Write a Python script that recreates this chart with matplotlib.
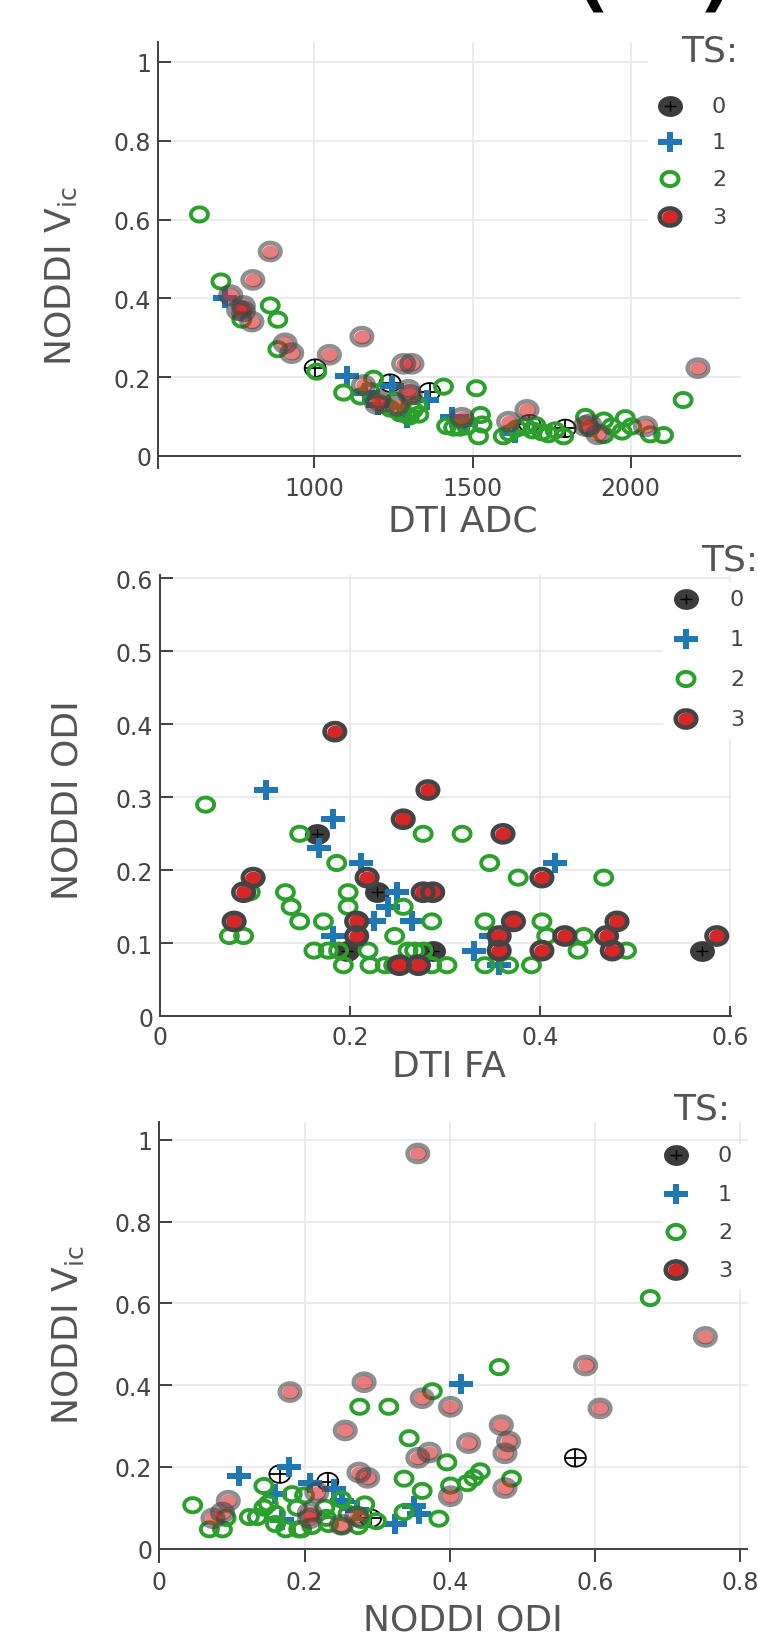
import matplotlib
matplotlib.use("Agg")
import numpy as np
import matplotlib.pyplot as plt
from matplotlib.path import Path
from matplotlib.patches import Rectangle

plt.rcParams['font.family'] = ['DejaVu Sans']
plt.rcParams['mathtext.fontset'] = 'dejavusans'

# ---------------- data ----------------
ts_labels = ["0", "1", "2", "3"]

# Panel 1: DTI ADC vs NODDI Vic
adc_ts0 = [1002, 1239, 1364, 1793, 1680]
vic1_ts0 = [0.223, 0.185, 0.163, 0.070, 0.082]
adc_ts1 = [717, 1102, 1245, 1160, 1355, 1292, 1435, 1635, 1480, 1200]
vic1_ts1 = [0.400, 0.203, 0.178, 0.160, 0.142, 0.096, 0.098, 0.058, 0.080, 0.130]
adc_ts2 = [636, 704, 770, 860, 884, 884, 1007, 1092, 1187, 1145,
           1175, 1271, 1313, 1325, 1300, 1330, 1408, 1512, 1525, 1418,
           1440, 1460, 1482, 1519, 1530, 1597, 1617, 1640, 1666, 1690,
           1700, 1720, 1740, 1761, 1788, 1857, 1870, 1915, 1915, 1940,
           1973, 1983, 2003, 2062, 2104, 2166, 1220, 1240, 1255, 1290]
vic1_ts2 = [0.613, 0.443, 0.346, 0.382, 0.346, 0.271, 0.214, 0.161, 0.196, 0.151,
            0.165, 0.108, 0.117, 0.130, 0.100, 0.105, 0.176, 0.172, 0.104, 0.076,
            0.072, 0.072, 0.075, 0.050, 0.080, 0.050, 0.058, 0.070, 0.075, 0.065,
            0.078, 0.060, 0.055, 0.065, 0.050, 0.099, 0.070, 0.090, 0.053, 0.075,
            0.062, 0.096, 0.075, 0.055, 0.053, 0.142, 0.130, 0.120, 0.140, 0.105]
adc_ts3 = [735, 775, 775, 760, 802, 805, 860, 907, 928, 1047,
           1150, 1282, 1308, 1155, 1297, 1203, 1197, 1261, 1303, 1466,
           1614, 1672, 1857, 1896, 2047, 2213, 1870]
vic1_ts3 = [0.408, 0.381, 0.367, 0.370, 0.341, 0.447, 0.519, 0.286, 0.261, 0.257,
            0.303, 0.234, 0.234, 0.180, 0.168, 0.142, 0.132, 0.127, 0.155, 0.097,
            0.087, 0.117, 0.076, 0.055, 0.075, 0.223, 0.080]

# Panel 2: DTI FA vs NODDI ODI
fa_ts0 = [0.165, 0.228, 0.197, 0.2875, 0.570]
odi2_ts0 = [0.25, 0.17, 0.09, 0.09, 0.09]
fa_ts1 = [0.112, 0.182, 0.167, 0.212, 0.182, 0.225, 0.249, 0.240, 0.265, 0.330, 0.416, 0.357, 0.348]
odi2_ts1 = [0.31, 0.27, 0.23, 0.21, 0.11, 0.13, 0.17, 0.15, 0.13, 0.09, 0.21, 0.07, 0.11]
fa_ts2 = [0.048, 0.073, 0.088, 0.095, 0.132, 0.138, 0.147, 0.147, 0.172, 0.162,
          0.177, 0.188, 0.193, 0.186, 0.198, 0.198, 0.219, 0.221, 0.237, 0.246,
          0.253, 0.247, 0.256, 0.261, 0.268, 0.277, 0.286, 0.286, 0.302, 0.318,
          0.342, 0.347, 0.342, 0.367, 0.377, 0.467, 0.402, 0.407, 0.446, 0.440,
          0.491, 0.391, 0.277]
odi2_ts2 = [0.29, 0.11, 0.11, 0.17, 0.17, 0.15, 0.13, 0.25, 0.13, 0.09,
            0.09, 0.09, 0.07, 0.21, 0.17, 0.15, 0.09, 0.07, 0.07, 0.07,
            0.07, 0.11, 0.15, 0.09, 0.09, 0.25, 0.13, 0.07, 0.07, 0.25,
            0.13, 0.21, 0.07, 0.07, 0.19, 0.19, 0.13, 0.11, 0.11, 0.09,
            0.09, 0.07, 0.09]
fa_ts3 = [0.184, 0.282, 0.256, 0.098, 0.088, 0.078, 0.218, 0.207, 0.207, 0.277,
          0.287, 0.252, 0.272, 0.361, 0.402, 0.372, 0.357, 0.357, 0.402, 0.426,
          0.470, 0.481, 0.476, 0.586]
odi2_ts3 = [0.39, 0.31, 0.27, 0.19, 0.17, 0.13, 0.19, 0.13, 0.11, 0.17,
            0.17, 0.07, 0.07, 0.25, 0.19, 0.13, 0.11, 0.09, 0.09, 0.11,
            0.11, 0.13, 0.09, 0.11]

# Panel 3: NODDI ODI vs NODDI Vic
odi3_ts0 = [0.166, 0.232, 0.291, 0.573]
vic3_ts0 = [0.182, 0.164, 0.074, 0.222]
odi3_ts1 = [0.110, 0.178, 0.208, 0.160, 0.240, 0.251, 0.416, 0.351, 0.358, 0.324, 0.169, 0.272]
vic3_ts1 = [0.177, 0.200, 0.161, 0.133, 0.145, 0.116, 0.402, 0.104, 0.084, 0.059, 0.071, 0.095]
odi3_ts2 = [0.046, 0.069, 0.087, 0.092, 0.124, 0.135, 0.144, 0.144, 0.160, 0.174,
            0.192, 0.183, 0.190, 0.228, 0.251, 0.283, 0.233, 0.251, 0.274, 0.299,
            0.278, 0.210, 0.196, 0.337, 0.362, 0.337, 0.385, 0.344, 0.396, 0.401,
            0.424, 0.433, 0.442, 0.485, 0.468, 0.276, 0.316, 0.376, 0.676, 0.150,
            0.200, 0.160, 0.260, 0.230]
vic3_ts2 = [0.106, 0.047, 0.047, 0.075, 0.077, 0.077, 0.153, 0.100, 0.060, 0.047,
            0.047, 0.133, 0.100, 0.100, 0.120, 0.108, 0.060, 0.055, 0.055, 0.067,
            0.070, 0.055, 0.047, 0.171, 0.141, 0.089, 0.073, 0.270, 0.211, 0.154,
            0.160, 0.173, 0.189, 0.171, 0.444, 0.347, 0.347, 0.385, 0.613, 0.110,
            0.130, 0.085, 0.085, 0.075]
odi3_ts3 = [0.356, 0.752, 0.587, 0.607, 0.282, 0.180, 0.362, 0.401, 0.256, 0.471,
            0.481, 0.426, 0.372, 0.356, 0.476, 0.275, 0.287, 0.401, 0.476, 0.095,
            0.087, 0.074, 0.217, 0.207, 0.207, 0.251, 0.272]
vic3_ts3 = [0.967, 0.518, 0.448, 0.343, 0.407, 0.383, 0.368, 0.347, 0.289, 0.302,
            0.262, 0.258, 0.235, 0.222, 0.233, 0.186, 0.173, 0.128, 0.148, 0.117,
            0.088, 0.074, 0.137, 0.088, 0.074, 0.058, 0.079]

# ---------------- style ----------------
W, H = 758, 1649
DPI = 100
PT = 72.0 / DPI          # points per pixel
DARK = '#444444'
BLUE = '#1f77b4'
GREEN = '#2ca02c'
RED = '#d62728'
GRID = '#ebebeb'
TITLE_COLOR = '#555555'
STRETCH = 1.2            # markers are slightly wider than tall in the reference

_t = np.linspace(0, 2 * np.pi, 61)
ellipse_path = Path(np.column_stack([0.5 * np.cos(_t), 0.5 / STRETCH * np.sin(_t)]), closed=True)
_b = 0.5 / STRETCH
_a = 0.12
plus_path = Path([(-_a, -_b), (_a, -_b), (_a, -_a), (0.5, -_a), (0.5, _a), (_a, _a),
                  (_a, _b), (-_a, _b), (-_a, _a), (-0.5, _a), (-0.5, -_a), (-_a, -_a), (-_a, -_b)],
                 closed=True)
cross_path = Path([(-0.5, 0), (0.5, 0), (0, -0.5 / STRETCH), (0, 0.5 / STRETCH)],
                  [Path.MOVETO, Path.LINETO, Path.MOVETO, Path.LINETO])


def s_px(d):
    return (d * PT) ** 2


fig = plt.figure(figsize=(W / DPI, H / DPI), dpi=DPI)


def add_axes_px(left, top, right, bottom):
    return fig.add_axes([left / W, 1 - bottom / H, (right - left) / W, (bottom - top) / H])


def style_axes(ax, xlim, ylim, xticks, xlabels, yticks, ylabels, xtick_len_px, bottom_spine):
    ax.set_xlim(*xlim)
    ax.set_ylim(*ylim)
    ax.set_xticks(xticks)
    ax.set_xticklabels(xlabels)
    ax.set_yticks(yticks)
    ax.set_yticklabels(ylabels)
    for sp in ['top', 'right']:
        ax.spines[sp].set_visible(False)
    ax.spines['left'].set_color(DARK)
    ax.spines['left'].set_linewidth(2 * PT)
    if bottom_spine:
        ax.spines['bottom'].set_color(DARK)
        ax.spines['bottom'].set_linewidth(2 * PT)
    else:
        ax.spines['bottom'].set_visible(False)
        ax.axhline(0, color=DARK, lw=2 * PT, zorder=1.5)
    ax.grid(True, color=GRID, lw=2 * PT, zorder=0)
    ax.set_axisbelow(True)
    ax.tick_params(axis='y', direction='in', length=13 * PT, width=2 * PT, color=DARK,
                   labelsize=17, labelcolor=DARK, pad=5)
    ax.tick_params(axis='x', direction='in', length=xtick_len_px * PT, width=2 * PT, color=DARK,
                   labelsize=17, labelcolor=DARK, pad=6)


def draw_ts0_open(ax, x, y):
    ax.scatter(x, y, s=s_px(21), marker=ellipse_path, facecolors='none', edgecolors='black',
               linewidths=1.8 * PT, zorder=2)
    ax.scatter(x, y, s=s_px(21), marker=cross_path, facecolors='none', edgecolors='black',
               linewidths=1.8 * PT, zorder=2)


def draw_ts0_filled(ax, x, y, **kw):
    ax.scatter(x, y, s=s_px(25), marker=ellipse_path, c='#3c3c3c', linewidths=0, zorder=2, **kw)
    ax.scatter(x, y, s=s_px(12), marker=cross_path, facecolors='none', edgecolors='black',
               linewidths=1.4 * PT, zorder=2.1, **kw)


def draw_ts1(ax, x, y, **kw):
    ax.scatter(x, y, s=s_px(24), marker=plus_path, c=BLUE, linewidths=0, zorder=3, **kw)


def draw_ts2(ax, x, y, d=17, lw=3.9, **kw):
    ax.scatter(x, y, s=s_px(d), marker=ellipse_path, facecolors='none', edgecolors=GREEN,
               linewidths=lw * PT, zorder=4, **kw)


def draw_ts3(ax, x, y, alpha=1.0, **kw):
    ax.scatter(x, y, s=s_px(16.5), marker=ellipse_path, c=RED, linewidths=0, alpha=alpha, zorder=5, **kw)
    ax.scatter(x, y, s=s_px(20.5), marker=ellipse_path, facecolors='none', edgecolors=DARK,
               linewidths=4.6 * PT, alpha=alpha, zorder=5.1, **kw)


# ---------------- panel 1 ----------------
ax1 = add_axes_px(158, 43.3, 741, 468.8)
style_axes(ax1, (505, 2349), (-0.03, 1.05), [1000, 1500, 2000], ['1000', '1500', '2000'],
           [0, 0.2, 0.4, 0.6, 0.8, 1], ['0', '0.2', '0.4', '0.6', '0.8', '1'], 11.8, False)
draw_ts0_open(ax1, adc_ts0, vic1_ts0)
draw_ts1(ax1, adc_ts1, vic1_ts1)
draw_ts2(ax1, adc_ts2, vic1_ts2)
draw_ts3(ax1, adc_ts3, vic1_ts3, alpha=0.6)

# ---------------- panel 2 ----------------
ax2 = add_axes_px(160, 575.7, 731, 1017.3)
style_axes(ax2, (0, 0.601), (0, 0.605), [0, 0.2, 0.4, 0.6], ['0', '0.2', '0.4', '0.6'],
           [0, 0.1, 0.2, 0.3, 0.4, 0.5, 0.6], ['0', '0.1', '0.2', '0.3', '0.4', '0.5', '0.6'], 10, True)
draw_ts0_filled(ax2, fa_ts0, odi2_ts0)
draw_ts1(ax2, fa_ts1, odi2_ts1)
draw_ts2(ax2, fa_ts2, odi2_ts2)
draw_ts3(ax2, fa_ts3, odi2_ts3)

# ---------------- panel 3 ----------------
ax3 = add_axes_px(159.3, 1122.6, 747.5, 1563)
style_axes(ax3, (0, 0.81), (-0.033, 1.045), [0, 0.2, 0.4, 0.6, 0.8], ['0', '0.2', '0.4', '0.6', '0.8'],
           [0, 0.2, 0.4, 0.6, 0.8, 1], ['0', '0.2', '0.4', '0.6', '0.8', '1'], 13.5, False)
draw_ts0_open(ax3, odi3_ts0, vic3_ts0)
draw_ts1(ax3, odi3_ts1, vic3_ts1)
draw_ts2(ax3, odi3_ts2, vic3_ts2)
draw_ts3(ax3, odi3_ts3, vic3_ts3, alpha=0.6)

# ---------------- overlay (legends, titles) in pixel coordinates ----------------
ov = fig.add_axes([0, 0, 1, 1], zorder=10)
ov.set_xlim(0, W)
ov.set_ylim(H, 0)
ov.axis('off')
ov.patch.set_alpha(0)


def legend_px(box, title_xy, marker_x, label_x, rows):
    bx0, by0, bx1, by1 = box
    ov.add_patch(Rectangle((bx0, by0), bx1 - bx0, by1 - by0, facecolor='white', edgecolor='none', zorder=1))
    ov.text(title_xy[0], title_xy[1], 'TS:', fontsize=26, color=TITLE_COLOR, ha='center', va='center', zorder=3)
    draw_ts0_filled(ov, [marker_x], [rows[0]], clip_on=False)
    draw_ts1(ov, [marker_x], [rows[1]], clip_on=False)
    draw_ts2(ov, [marker_x], [rows[2]], d=17, lw=4, clip_on=False)
    draw_ts3(ov, [marker_x], [rows[3]], clip_on=False)
    for lab, yy in zip(ts_labels, rows):
        ov.text(label_x, yy, lab, fontsize=16, color=DARK, ha='center', va='center', zorder=3)


legend_px((648, 55, 741, 245), (710, 52), 670, 719, [107, 143, 180, 218])
legend_px((663, 583, 758, 740), (730, 561), 686, 737, [600, 640, 680, 720])
legend_px((663, 1145, 758, 1290), (702, 1110), 676, 725, [1156, 1195, 1233, 1271])

# axis titles
ov.text(463, 522, 'DTI ADC', fontsize=26, color=TITLE_COLOR, ha='center', va='center')
ov.text(61, 276, r'NODDI V$_{\mathregular{ic}}$', fontsize=26, color=TITLE_COLOR,
        ha='center', va='center', rotation=90)
ov.text(449, 1067, 'DTI FA', fontsize=26, color=TITLE_COLOR, ha='center', va='center')
ov.text(68, 800, 'NODDI ODI', fontsize=26, color=TITLE_COLOR, ha='center', va='center', rotation=90)
ov.text(463, 1621, 'NODDI ODI', fontsize=26, color=TITLE_COLOR, ha='center', va='center')
ov.text(68, 1335, r'NODDI V$_{\mathregular{ic}}$', fontsize=26, color=TITLE_COLOR,
        ha='center', va='center', rotation=90)

# cut-off panel label at the very top (only the parenthesis tails are visible)
fig.text(654 / W, 1.0 + 4.0 / H, '(b)', fontsize=92, color='black', ha='center', va='baseline')

fig.savefig('out.png', dpi=DPI)
